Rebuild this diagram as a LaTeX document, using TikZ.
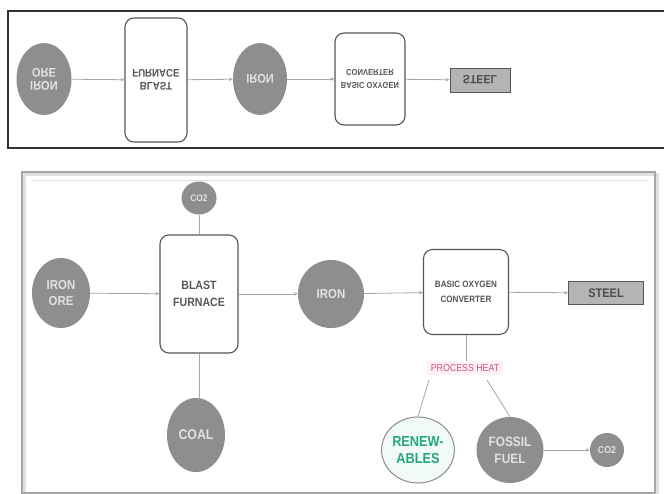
\documentclass[tikz,border=0pt]{standalone}
\usepackage{fontspec}
\setmainfont{Liberation Sans}[FakeStretch=0.88]
\usetikzlibrary{shapes.geometric,arrows.meta}
\definecolor{discgray}{HTML}{8E8E8E}
\definecolor{disctext}{HTML}{E2E2E2}
\definecolor{boxline}{HTML}{555555}
\definecolor{boxtext}{HTML}{555555}
\definecolor{linegray}{HTML}{A8A8A8}
\definecolor{steelfill}{HTML}{B4B4B4}
\definecolor{renewgreen}{HTML}{25A878}
\definecolor{heatred}{HTML}{D8507A}
\newcommand{\flipv}[1]{\scalebox{1}[-1]{#1}}
\tikzset{
  disc/.style={ellipse, fill=discgray, draw=none, text=disctext, inner sep=0pt,
    font=\bfseries\fontsize{13}{16}\selectfont, align=center},
  procbox/.style={rectangle, rounded corners=9pt, draw=boxline, line width=1.1pt, fill=white,
    text=boxtext, inner sep=0pt, align=center, font=\bfseries\fontsize{9}{12}\selectfont},
  steelbox/.style={rectangle, draw=boxline, line width=0.9pt, fill=steelfill, text=black!70,
    inner sep=0pt, font=\bfseries\fontsize{12.5}{14}\selectfont},
  flow/.style={draw=linegray, line width=0.8pt, -{Stealth[length=4pt,width=3.5pt]}},
  plain/.style={draw=linegray, line width=0.8pt},
}
\begin{document}
\begin{tikzpicture}[x=1pt,y=-1pt]
\useasboundingbox (0,0) rectangle (664,493);
\fill[white] (0,0) rectangle (664,493);

% ---------- top (mirrored) panel ----------
\draw[line width=2.6pt, color=black!80] (668,11) -- (8,11) -- (8,148) -- (668,148);
\node[disc, minimum width=55, minimum height=72, font=\bfseries\fontsize{12.5}{15}\selectfont] (tore) at (44,79) {\flipv{\shortstack{IRON\\[1pt]ORE}}};
\node[procbox, minimum width=62, minimum height=124, font=\bfseries\fontsize{11}{13}\selectfont] (tbf) at (156,80) {\flipv{\shortstack{BLAST\\[2pt]FURNACE}}};
\node[disc, minimum width=54, minimum height=72, font=\bfseries\fontsize{12.5}{15}\selectfont] (tiron) at (260,79) {\flipv{IRON}};
\node[procbox, minimum width=70, minimum height=92, font=\bfseries\fontsize{8.6}{10}\selectfont] (tboc) at (370,79) {\flipv{\shortstack{BASIC OXYGEN\\[3pt]CONVERTER}}};
\node[steelbox, minimum width=60, minimum height=24, font=\bfseries\fontsize{12}{14}\selectfont] (tsteel) at (480,80) {\flipv{STEEL}};
\draw[flow] (tore) -- (tbf);
\draw[flow] (tbf) -- (tiron);
\draw[flow] (tiron) -- (tboc);
\draw[flow] (tboc) -- (tsteel);

% ---------- lower panel ----------
\draw[line width=3pt, color=black!12] (24,174) rectangle (657,495);
\draw[line width=1.2pt, color=black!35] (22,172) rectangle (655,493);
\draw[line width=0.6pt, color=black!12] (31,180) -- (647,180);

\node[disc, minimum width=58, minimum height=70] (ore) at (61,293) {IRON\\ORE};
\node[procbox, minimum width=78, minimum height=118, font=\bfseries\fontsize{12}{17}\selectfont] (bf) at (199,294) {BLAST\\FURNACE};
\node[disc, minimum width=35, minimum height=33, font=\bfseries\fontsize{9.5}{10}\selectfont] (co2a) at (199,198) {CO2};
\node[disc, minimum width=58, minimum height=74, font=\bfseries\fontsize{14}{16}\selectfont] (coal) at (196,435) {COAL};
\node[disc, minimum width=66, minimum height=68] (iron) at (331,294) {IRON};
\node[procbox, minimum width=85, minimum height=85, font=\bfseries\fontsize{9.2}{15}\selectfont] (boc) at (466,292) {BASIC OXYGEN\\CONVERTER};
\node[steelbox, minimum width=75, minimum height=23] (steel) at (606,293) {STEEL};
\node[fill=heatred!8, text=heatred, inner xsep=4pt, inner ysep=3pt, font=\fontsize{10}{11}\selectfont] (heat) at (465,368) {PROCESS HEAT};
\node[ellipse, draw=black!45, line width=1pt, fill=renewgreen!6, text=renewgreen, inner sep=0pt,
  minimum width=67, minimum height=66, align=center, font=\bfseries\fontsize{14.5}{17}\selectfont] (ren) at (418,450) {RENEW-\\ABLES};
\node[disc, minimum width=67, minimum height=66, font=\bfseries\fontsize{13.5}{17}\selectfont] (fossil) at (510,450) {FOSSIL\\FUEL};
\node[disc, minimum width=34, minimum height=34, font=\bfseries\fontsize{10}{11}\selectfont] (co2b) at (607,450) {CO2};

\coordinate (hl) at (429,380);
\coordinate (hr) at (487,380);

\draw[flow] (ore) -- (bf);
\draw[plain] (co2a) -- (bf);
\draw[plain] (coal.north -| bf.south) -- (bf.south);
\draw[flow] (bf) -- (iron);
\draw[flow] (iron) -- (boc);
\draw[flow] (boc) -- (steel);
\draw[plain] (boc.south) -- (heat.north -| boc.south);
\draw[plain] (hl) -- (ren.north);
\draw[plain] (hr) -- (fossil.north);
\draw[flow] (fossil) -- (co2b);
\end{tikzpicture}
\end{document}
